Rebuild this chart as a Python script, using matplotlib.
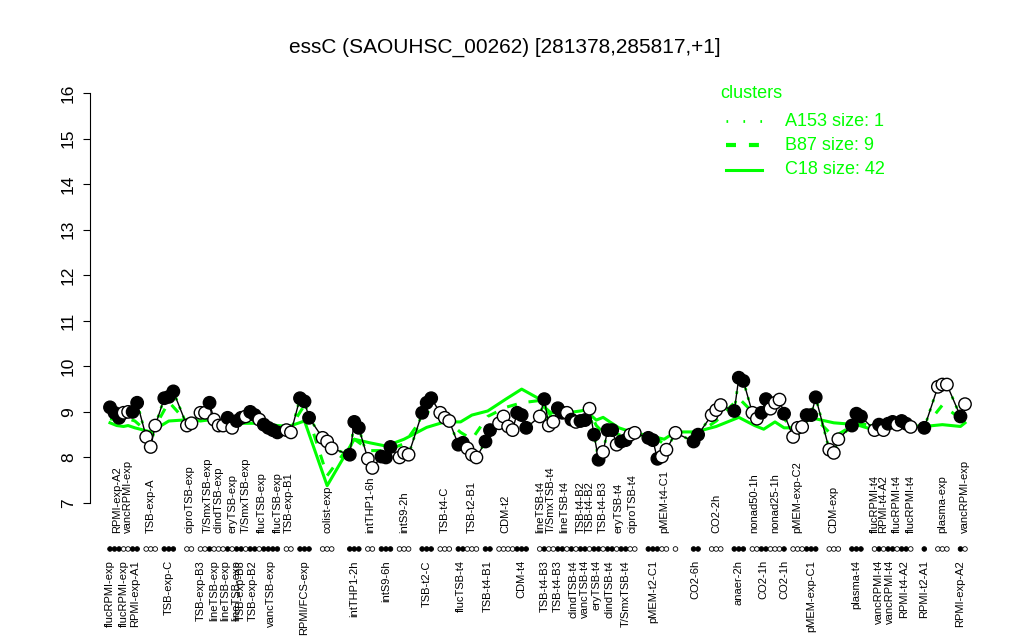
import numpy as np
import matplotlib
matplotlib.use("Agg")
import matplotlib.pyplot as plt
from matplotlib.lines import Line2D
from matplotlib.transforms import blended_transform_factory

plt.rcParams['font.family'] = ['Liberation Sans', 'DejaVu Sans']

title = "essC (SAOUHSC_00262) [281378,285817,+1]"

# one entry per condition, in plotting order
cond_labels = [
    "flucRPMI-exp", "RPMI-exp-A2", "flucRPMI-exp", "vancRPMI-exp", "RPMI-exp-A1",
    "TSB-exp-A", "TSB-exp-C", "ciproTSB-exp", "TSB-exp-B3", "T/SmxTSB-exp",
    "lineTSB-exp", "clindTSB-exp", "lineTSB-exp", "eryTSB-exp", "lineTSB-exp",
    "TSB-exp-B3", "T/SmxTSB-exp", "TSB-exp-B2", "flucTSB-exp", "vancTSB-exp",
    "flucTSB-exp", "TSB-exp-B1", "RPMI/FCS-exp", "colist-exp", "intTHP1-2h",
    "intTHP1-6h", "intS9-6h", "intS9-2h", "TSB-t2-C", "TSB-t4-C",
    "flucTSB-t4", "TSB-t2-B1", "TSB-t4-B1", "CDM-t2", "CDM-t4",
    "lineTSB-t4", "TSB-t4-B3", "T/SmxTSB-t4", "TSB-t4-B3", "lineTSB-t4",
    "clindTSB-t4", "TSB-t4-B2", "vancTSB-t4", "TSB-t4-B2", "eryTSB-t4",
    "TSB-t4-B3", "clindTSB-t4", "eryTSB-t4", "T/SmxTSB-t4", "ciproTSB-t4",
    "pMEM-t2-C1", "pMEM-t4-C1", "", "CO2-6h", "CO2-2h",
    "anaer-2h", "nonad50-1h", "CO2-1h", "nonad25-1h", "CO2-1h",
    "pMEM-exp-C2", "pMEM-exp-C1", "CDM-exp", "plasma-t4", "flucRPMI-t4",
    "vancRPMI-t4", "RPMI-t4-A2", "vancRPMI-t4", "flucRPMI-t4", "RPMI-t4-A2",
    "flucRPMI-t4", "RPMI-t2-A1", "plasma-exp", "RPMI-exp-A2", "vancRPMI-exp",
]
cond_side = [
    "B", "T", "B", "T", "B", "T", "B", "T", "B", "T",
    "B", "T", "B", "T", "B", "B", "T", "B", "T", "B",
    "T", "T", "B", "T", "B", "T", "B", "T", "B", "T",
    "B", "T", "B", "T", "B", "T", "B", "T", "B", "T",
    "B", "T", "B", "T", "B", "T", "B", "T", "B", "T",
    "B", "T", "T", "B", "T", "B", "T", "B", "T", "B",
    "T", "B", "T", "B", "T", "B", "T", "B", "T", "B",
    "T", "B", "T", "B", "T",
]
cond_values = [
    [9.1], [8.98, 8.87], [8.98], [9.0], [9.0, 9.2],
    [8.45, 8.23, 8.7], [9.3, 9.33, 9.45], [8.7, 8.75], [8.98], [8.98, 9.2],
    [8.83], [8.7], [8.7, 8.87], [8.65], [8.8],
    [8.87], [8.9], [9.0, 8.93], [8.83, 8.72], [8.65, 8.6],
    [8.55], [8.6, 8.55], [9.3, 9.23, 8.87], [8.43, 8.35, 8.2], [8.06, 8.78, 8.65],
    [7.97, 7.77], [8.02, 8.0, 8.23], [8.0, 8.1, 8.06], [8.98, 9.2, 9.3], [8.98, 8.87, 8.8],
    [8.28, 8.32], [8.2, 8.06, 8.0], [8.35, 8.6], [8.75, 8.9, 8.68, 8.6], [8.98, 8.93, 8.65],
    [8.9], [9.28], [8.7, 8.78], [9.08], [8.98, 8.98],
    [8.83, 8.78], [8.8], [8.82], [9.07], [8.5, 7.95],
    [8.12], [8.6, 8.6], [8.28, 8.35], [8.38], [8.5, 8.54],
    [8.43, 8.38, 7.97], [8.02, 8.17], [8.54], [8.35, 8.5], [8.93, 9.04, 9.15],
    [9.02, 9.75, 9.68], [8.98, 8.85], [8.98, 9.28], [9.07, 9.2, 9.27], [8.96],
    [8.45, 8.65, 8.67], [8.93, 8.93, 9.32], [8.17, 8.1, 8.4], [8.7, 8.96, 8.9], [8.6],
    [8.72], [8.6], [8.74, 8.78], [8.72], [8.8, 8.74],
    [8.67], [8.65], [9.55, 9.6, 9.6], [8.9], [9.17],
]
# F = filled circle, O = open circle
cond_filled = [
    "F", "FF", "O", "O", "FF", "OOO", "FFF", "OO", "O", "OF",
    "O", "O", "OF", "O", "F", "F", "O", "FF", "OF", "FF",
    "F", "OO", "FFF", "OOO", "FFF", "OO", "FFF", "OOO", "FFF", "OOO",
    "FF", "OOO", "FF", "OOOO", "FFF", "O", "F", "OO", "F", "FO",
    "FO", "F", "F", "O", "FF", "O", "FF", "OF", "F", "OO",
    "FFF", "OO", "O", "FF", "OOO", "FFF", "OO", "FF", "OOO", "F",
    "OOO", "FFF", "OOO", "FFF", "O", "F", "O", "FF", "O", "FF",
    "O", "F", "OOO", "F", "O",
]
# empty sample slots before each condition
cond_gap = [
    0, 0, 0, 0, 0, 1, 1, 2, 1, 0,
    0, 0, 0, 0, 0, 0, 0, 0, 0, 0,
    0, 1, 1, 2, 3, 1, 1, 1, 2, 1,
    1, 0, 1, 1, 0, 2, 0, 0, 0, 0,
    0, 0, 0, 0, 0, 0, 0, 0, 0, 0,
    2, 0, 1, 3, 2, 2, 1, 0, 0, 0,
    1, 0, 2, 2, 2, 0, 0, 0, 0, 0,
    0, 2, 2, 2, 0,
]
# cluster mean profiles per condition
c18_mean = [
    8.76, 8.7, 8.68, 8.7, 8.65, 8.56, 8.8, 8.83, 8.8, 8.82,
    8.8, 8.8, 8.8, 8.78, 8.76, 8.75, 8.75, 8.75, 8.75, 8.72,
    8.7, 8.68, 8.8, 7.38, 8.4, 8.32, 8.25, 8.4, 8.66, 8.78,
    8.78, 8.93, 9.02, 9.28, 9.5, 9.28, 9.1, 8.98, 8.98, 8.98,
    9.0, 9.02, 9.04, 8.95, 8.82, 8.88, 8.78, 8.65, 8.6, 8.55,
    8.46, 8.4, 8.56, 8.56, 8.68, 8.88, 8.7, 8.62, 8.78, 8.65,
    8.65, 8.87, 8.76, 8.72, 8.6, 8.66, 8.7, 8.72, 8.72, 8.72,
    8.7, 8.68, 8.72, 8.68, 8.76,
]
b87_mean = [
    8.85, 8.82, 8.82, 8.85, 8.8, 8.5, 9.22, 8.72, 8.85, 8.9,
    8.75, 8.68, 8.72, 8.65, 8.75, 8.8, 8.8, 8.85, 8.82, 8.68,
    8.62, 8.6, 9.15, 7.6, 8.4, 8.15, 8.15, 8.3, 9.0, 8.85,
    8.55, 8.4, 8.9, 9.1, 9.2, 9.25, 9.15, 8.9, 9.0, 8.95,
    8.85, 8.82, 8.85, 9.0, 8.7, 8.55, 8.6, 8.5, 8.45, 8.5,
    8.45, 8.3, 8.55, 8.5, 8.8, 9.3, 8.95, 8.95, 9.0, 8.85,
    8.5, 8.95, 8.45, 8.75, 8.7, 8.72, 8.7, 8.75, 8.72, 8.75,
    8.7, 8.65, 9.15, 8.85, 9.0,
]
legend_labels = ["A153 size: 1", "B87 size: 9", "C18 size: 42"]

green = "#00ff00"

# sample positions
xs, ys, fills, cond_x = [], [], [], []
pos = -1
for i, vals in enumerate(cond_values):
    pos += 1 + cond_gap[i]
    start = pos
    for j, v in enumerate(vals):
        if j > 0:
            pos += 1
        xs.append(pos)
        ys.append(v)
        fills.append(cond_filled[i][j] == "F")
    cond_x.append((start + pos) / 2)
last = xs[-1]

W, H = 1024, 640
fig = plt.figure(figsize=(W / 100, H / 100), dpi=100)
ax = fig.add_axes([90 / W, 120.6 / H, 885 / W, 442.8 / H])

span = last * 885 / 855
x0 = -20 * span / 885
ax.set_xlim(x0, x0 + span)
ax.set_ylim(6.64, 16.36)

# cluster lines
ax.plot(cond_x, c18_mean, color=green, lw=2.2, solid_joinstyle='round', zorder=1)
ax.plot(cond_x, b87_mean, color=green, lw=2.2, ls=(0, (3.3, 3.9)), zorder=1)
ax.plot(xs, ys, color=green, lw=2.0, ls=(0, (1, 2.5)), zorder=1)

# expression profile
ax.plot(xs, ys, color="black", lw=1.0, zorder=2)
ax.scatter(xs, ys, s=80, c=["black" if f else "white" for f in fills],
           edgecolors="black", linewidths=1.0, zorder=3)

# fill key row below the plot
trans = blended_transform_factory(ax.transData, ax.transAxes)
ax.scatter(xs, [-0.0668] * len(xs), s=11, c=["black" if f else "white" for f in fills],
           edgecolors="black", linewidths=0.6, transform=trans, clip_on=False, zorder=3)

for lab, side, cx in zip(cond_labels, cond_side, cond_x):
    if not lab:
        continue
    if side == "T":
        ax.text(cx, -0.031, lab, transform=trans, rotation=90, ha="center", va="bottom",
                fontsize=8)
    else:
        ax.text(cx, -0.092, lab, transform=trans, rotation=90, ha="center", va="top",
                fontsize=8)

for s in ["top", "right", "bottom"]:
    ax.spines[s].set_visible(False)
ax.spines["left"].set_bounds(7, 16)
ax.set_xticks([])
ax.set_yticks(range(7, 17))
ax.tick_params(axis="y", length=5, pad=5, labelsize=12.5, labelrotation=90)
for t in ax.get_yticklabels():
    t.set_va("center")

fig.text(505 / W, 1 - 47 / H, title, ha="center", va="center", fontsize=15)

# legend
fig.text(720 / W, 1 - 93 / H, "clusters", color=green, fontsize=13, ha="left", va="center")
styles = [(0, (0.6, 5.5)), (0, (2.4, 3.1)), "-"]
widths = [2.0, 3.0, 2.2]
ys_leg = [121, 145, 170]
for lab, st, lw, yy in zip(legend_labels, styles, widths, ys_leg):
    fig.add_artist(Line2D([726 / W, 762 / W], [1 - yy / H, 1 - yy / H], color=green,
                          lw=lw, ls=st, transform=fig.transFigure))
    fig.text(785 / W, 1 - yy / H, lab, color=green, fontsize=13, ha="left", va="center")

fig.savefig("out.png", dpi=100)
